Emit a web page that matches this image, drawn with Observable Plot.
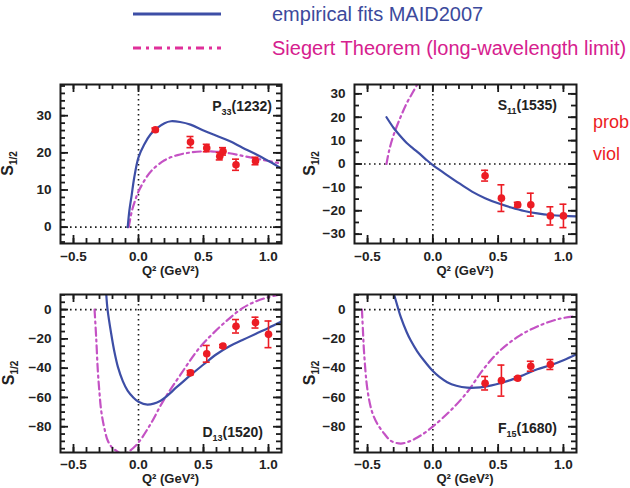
<!DOCTYPE html>
<html><head><meta charset="utf-8">
<script src="https://cdn.jsdelivr.net/npm/d3@7"></script>
<script src="https://cdn.jsdelivr.net/npm/@observablehq/plot@0.6"></script>
<style>
html,body{margin:0;padding:0;background:#fff;}
#wrap{position:relative;width:630px;height:488px;overflow:hidden;font-family:"Liberation Sans",Arial,sans-serif;}
#wrap > svg{position:absolute;background:transparent;}
</style></head><body>
<div id="wrap"></div>
<script>
// ---------- data ----------
const xMajor = [-0.5, 0.0, 0.5, 1.0];
const legendLabels = ["empirical fits MAID2007", "Siegert Theorem (long-wavelength limit)"];
const sideText = ["prob", "viol"];

// P33(1232)
const p33Y = [0, 10, 20, 30];
const p33Blue = [[-0.083,0],[-0.07,4.5],[-0.053,8.5],[-0.033,13.3],[0,18.8],[0.043,22.2],[0.093,25],[0.14,26.6],[0.2,28],[0.25,28.5],[0.32,28.3],[0.4,27.6],[0.5,26],[0.6,24.6],[0.7,23.2],[0.8,21.4],[0.9,19.7],[1.0,17.8],[1.1,15.8]];
const p33Sieg = [[-0.075,0],[-0.05,4.5],[-0.025,7.3],[0,9.6],[0.05,12.8],[0.1,15.2],[0.2,18],[0.3,19.4],[0.4,20.1],[0.5,20.4],[0.6,20.3],[0.7,19.9],[0.8,19.2],[0.9,18.5],[1.0,17.8],[1.1,17.1]];
const p33PtX = [0.13, 0.40, 0.525, 0.625, 0.65, 0.75, 0.90];
const p33PtY = [26.2, 22.9, 21.3, 19.1, 20.4, 16.8, 17.8];
const p33PtE = [0.5, 1.5, 1.0, 1.0, 1.0, 1.5, 1.0];

// S11(1535)
const s11Y = [-30, -20, -10, 0, 10, 20, 30];
const s11Blue = [[-0.355,20],[-0.3,15.4],[-0.271,13.4],[-0.2,9.0],[-0.15,6.6],[-0.1,4.3],[-0.05,1.8],[0,-0.5],[0.1,-4.4],[0.2,-8.2],[0.3,-11.8],[0.4,-14.6],[0.5,-16.8],[0.6,-18.6],[0.7,-20.1],[0.8,-21.1],[0.9,-21.8],[1.0,-22.2],[1.1,-22.4]];
const s11Sieg = [[-0.355,0],[-0.335,5.7],[-0.3,12.5],[-0.25,19.7],[-0.2,26],[-0.15,31],[-0.11,35]];
const s11PtX = [0.40, 0.525, 0.65, 0.75, 0.90, 1.00];
const s11PtY = [-5.0, -14.6, -17.4, -17.4, -22.2, -22.2];
const s11PtE = [2.3, 5.7, 1.0, 4.9, 3.9, 5.0];

// D13(1520)
const d13Y = [-80, -60, -40, -20, 0];
const d13Blue = [[-0.248,10.5],[-0.238,0],[-0.21,-16.5],[-0.185,-29],[-0.158,-39.3],[-0.12,-49],[-0.084,-55.3],[-0.04,-60],[0,-63],[0.069,-64.9],[0.17,-62.2],[0.3,-52.5],[0.4,-44.8],[0.5,-37.5],[0.6,-30.5],[0.7,-25],[0.8,-20.8],[0.9,-16.6],[1.0,-12.5],[1.1,-8.2]];
const d13Sieg = [[-0.338,0],[-0.325,-20],[-0.313,-41.6],[-0.3,-57],[-0.287,-69],[-0.265,-80],[-0.236,-89.6],[-0.2,-94.5],[-0.16,-97],[-0.12,-99],[-0.084,-97.6],[-0.04,-94.5],[0,-90.8],[0.094,-78],[0.193,-62],[0.319,-45],[0.47,-26],[0.6,-14],[0.7,-6],[0.8,1],[0.9,5.5],[1.0,8.5],[1.1,10.5]];
const d13PtX = [0.40, 0.525, 0.65, 0.75, 0.90, 1.00];
const d13PtY = [-43.2, -30.2, -24.9, -11.4, -8.9, -16.9];
const d13PtE = [1.5, 5.7, 1.0, 4.6, 3.7, 9.1];

// F15(1680)
const f15Y = [-80, -60, -40, -20, 0];
const f15Blue = [[-0.297,10.3],[-0.27,2],[-0.246,-5],[-0.2,-15.5],[-0.17,-21],[-0.12,-28.5],[-0.068,-34.8],[0,-42],[0.05,-46],[0.11,-49.6],[0.18,-52],[0.262,-53.3],[0.364,-53.1],[0.45,-51.8],[0.516,-50.3],[0.6,-48],[0.7,-44.5],[0.8,-40.8],[0.9,-38],[1.0,-34.6],[1.1,-30.5]];
const f15Sieg = [[-0.543,0],[-0.535,-15],[-0.526,-30.2],[-0.5,-55.3],[-0.465,-70],[-0.424,-78.2],[-0.37,-85],[-0.322,-89.6],[-0.246,-91.5],[-0.18,-90],[-0.119,-87.4],[-0.06,-84],[0.008,-79.3],[0.135,-69],[0.262,-56.5],[0.389,-40.5],[0.516,-27.9],[0.668,-17.6],[0.82,-10.8],[0.973,-6.2],[1.095,-4.6]];
const f15PtX = [0.40, 0.525, 0.65, 0.75, 0.90];
const f15PtY = [-50.3, -48.5, -46.9, -38.7, -37.5];
const f15PtE = [4.6, 10.6, 1.0, 3.4, 3.4];

// ---------- styles ----------
const BLUE = "#3d4ea6", MAG = "#c452c4", RED = "#ec1c24", INK = "#1a1a1a";
const FONT = "'Liberation Sans', Arial, sans-serif";
const wrap = document.getElementById("wrap");

function pts(xs, ys, es) { return xs.map((x, i) => ({x, y: ys[i], e: es[i]})); }

function panel(c) {
  const fw = c.width - c.ml - c.mr, fh = c.height - c.mt - c.mb;
  const xMinor = d3.range(-5, 11).map(i => i / 10);
  const lo = Math.ceil(c.yDomain[0] / c.yStep) * c.yStep;
  const yMinor = d3.range(lo, c.yDomain[1], c.yStep);
  const P = pts(c.px, c.py, c.pe);
  const dot = {stroke: INK, strokeWidth: 1.6, strokeDasharray: "1.6,3.4"};
  const tk = {stroke: INK, strokeWidth: 1.8};
  const svg = Plot.plot({
    width: c.width, height: c.height,
    marginLeft: c.ml, marginRight: c.mr, marginTop: c.mt, marginBottom: c.mb,
    style: {fontFamily: FONT, fontSize: "13.5px", fontWeight: "bold", color: "#222", background: "transparent", overflow: "visible"},
    x: {domain: [-0.6, 1.1], ticks: xMajor, tickFormat: d3.format(".1f"), tickSize: 0, tickPadding: c.xPad, label: null},
    y: {domain: c.yDomain, ticks: c.yMajor, tickFormat: d3.format("d"), tickSize: 0, tickPadding: 9, label: null},
    marks: [
      Plot.ruleY([0], dot),
      Plot.ruleX([0], dot),
      Plot.line(c.sieg, {x: d => d[0], y: d => d[1], stroke: MAG, strokeWidth: 2.2, strokeDasharray: "8,4,2,4", curve: "catmull-rom", clip: true}),
      Plot.line(c.blue, {x: d => d[0], y: d => d[1], stroke: BLUE, strokeWidth: 2.2, curve: "catmull-rom", clip: true}),
      Plot.ruleX(P, {x: "x", y1: d => d.y - d.e, y2: d => d.y + d.e, stroke: RED, strokeWidth: 1.6}),
      Plot.ruleY(P, {y: d => d.y - d.e, x1: "x", x2: "x", insetLeft: -3.5, insetRight: -3.5, stroke: RED, strokeWidth: 1.6}),
      Plot.ruleY(P, {y: d => d.y + d.e, x1: "x", x2: "x", insetLeft: -3.5, insetRight: -3.5, stroke: RED, strokeWidth: 1.6}),
      Plot.dot(P, {x: "x", y: "y", r: 3.8, fill: RED}),
      Plot.ruleX(xMinor, {...tk, insetTop: fh - 5}),
      Plot.ruleX(xMinor, {...tk, insetBottom: fh - 5}),
      Plot.ruleX(xMajor, {...tk, insetTop: fh - 8}),
      Plot.ruleX(xMajor, {...tk, insetBottom: fh - 8}),
      Plot.ruleY(yMinor, {...tk, insetRight: fw - 5}),
      Plot.ruleY(yMinor, {...tk, insetLeft: fw - 5}),
      Plot.ruleY(c.yMajor, {...tk, insetRight: fw - 8}),
      Plot.ruleY(c.yMajor, {...tk, insetLeft: fw - 8}),
      Plot.frame({stroke: INK, strokeWidth: 2})
    ]
  });
  svg.style.left = c.left + "px";
  svg.style.top = c.top + "px";
  const s = d3.select(svg);
  const xl = s.append("text").attr("x", c.ml + fw / 2).attr("y", c.mt + fh + c.xLabOff)
    .attr("text-anchor", "middle").attr("font-family", FONT).attr("font-size", 13).attr("font-weight", "bold").attr("fill", "#222");
  xl.text("Q² (GeV²)");
  const yl = s.append("text").attr("transform", `translate(${c.ylx},${c.mt + fh / 2}) rotate(-90)`)
    .attr("text-anchor", "middle").attr("font-family", FONT).attr("font-size", 16).attr("fill", "#222");
  yl.append("tspan").text("S");
  yl.append("tspan").attr("font-size", 10).attr("dy", 4).text("1/2");
  const rl = s.append("text").attr("x", c.ml + fw - c.labInset).attr("y", c.labY)
    .attr("text-anchor", "end").attr("font-family", FONT).attr("font-size", 14).attr("font-weight", "bold").attr("fill", "#222");
  rl.append("tspan").text(c.name[0]);
  rl.append("tspan").attr("font-size", 9).attr("dy", 4).text(c.name[1]);
  rl.append("tspan").attr("dy", -4).text(c.name[2]);
  wrap.appendChild(svg);
}

panel({left: 0, top: 70, width: 300, height: 215, ml: 60, mr: 19, mt: 14, mb: 42,
  yDomain: [-4.4, 38.4], yMajor: p33Y, yStep: 2, blue: p33Blue, sieg: p33Sieg, px: p33PtX, py: p33PtY, pe: p33PtE,
  name: ["P", "33", "(1232)"], labInset: 9, labY: 41, ylx: 13, xPad: 8, xLabOff: 32});
panel({left: 300, top: 70, width: 300, height: 215, ml: 54, mr: 24, mt: 14, mb: 42,
  yDomain: [-34, 34], yMajor: s11Y, yStep: 5, blue: s11Blue, sieg: s11Sieg, px: s11PtX, py: s11PtY, pe: s11PtE,
  name: ["S", "11", "(1535)"], labInset: 19, labY: 40, ylx: 15, xPad: 8, xLabOff: 32});
panel({left: 0, top: 280, width: 300, height: 208, ml: 60, mr: 19, mt: 14, mb: 36,
  yDomain: [-97.6, 10.3], yMajor: d13Y, yStep: 5, blue: d13Blue, sieg: d13Sieg, px: d13PtX, py: d13PtY, pe: d13PtE,
  name: ["D", "13", "(1520)"], labInset: 18, labY: 157, ylx: 14, xPad: 7, xLabOff: 31});
panel({left: 300, top: 280, width: 300, height: 208, ml: 54, mr: 24, mt: 14, mb: 36,
  yDomain: [-97.6, 10.3], yMajor: f15Y, yStep: 5, blue: f15Blue, sieg: f15Sieg, px: f15PtX, py: f15PtY, pe: f15PtE,
  name: ["F", "15", "(1680)"], labInset: 19, labY: 153, ylx: 15, xPad: 7, xLabOff: 31});

// ---------- legend & side text ----------
const leg = d3.select(wrap).append("svg").attr("width", 630).attr("height", 70).style("left", "0px").style("top", "0px");
leg.append("line").attr("x1", 133).attr("x2", 221).attr("y1", 14).attr("y2", 14).attr("stroke", BLUE).attr("stroke-width", 3);
leg.append("line").attr("x1", 133).attr("x2", 221).attr("y1", 48).attr("y2", 48).attr("stroke", "#e0309a").attr("stroke-width", 3).attr("stroke-dasharray", "8,5,3,5");
leg.append("text").attr("x", 272).attr("y", 21).attr("font-family", FONT).attr("font-size", 20).attr("fill", "#3c4a9c").text(legendLabels[0]);
leg.append("text").attr("x", 272).attr("y", 55).attr("font-family", FONT).attr("font-size", 20).attr("fill", "#d6208e").text(legendLabels[1]);

const side = d3.select(wrap).append("svg").attr("width", 45).attr("height", 60).style("left", "585px").style("top", "105px");
side.append("text").attr("x", 8).attr("y", 23).attr("font-family", FONT).attr("font-size", 18).attr("fill", RED).text(sideText[0]);
side.append("text").attr("x", 8).attr("y", 55).attr("font-family", FONT).attr("font-size", 18).attr("fill", RED).text(sideText[1]);
</script>
</body></html>
